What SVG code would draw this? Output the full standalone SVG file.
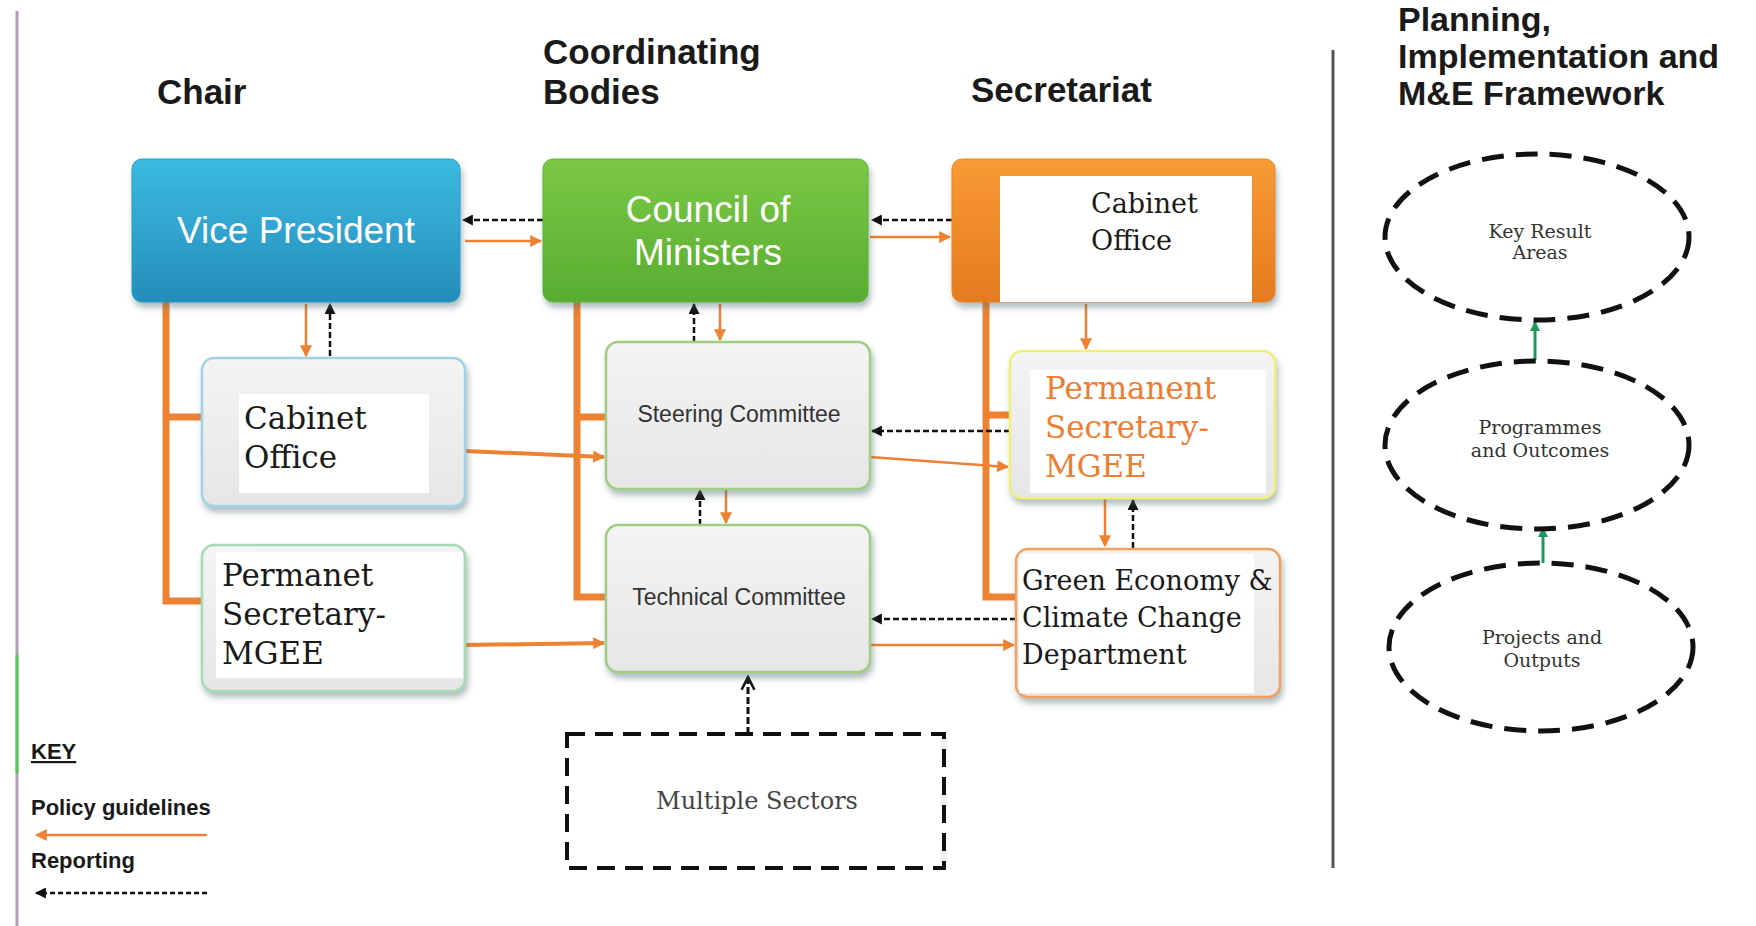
<svg xmlns="http://www.w3.org/2000/svg" width="1756" height="926" viewBox="0 0 1756 926">
<defs>
<linearGradient id="gBlue" x1="0" y1="0" x2="0" y2="1"><stop offset="0" stop-color="#3bbbe2"/><stop offset="1" stop-color="#258cbb"/></linearGradient>
<linearGradient id="gGreen" x1="0" y1="0" x2="0" y2="1"><stop offset="0" stop-color="#7cc845"/><stop offset="1" stop-color="#58ad31"/></linearGradient>
<linearGradient id="gOrange" x1="0" y1="0" x2="0" y2="1"><stop offset="0" stop-color="#f89a35"/><stop offset="1" stop-color="#e57b1f"/></linearGradient>
<linearGradient id="gGray" x1="0" y1="0" x2="0" y2="1"><stop offset="0" stop-color="#f4f4f4"/><stop offset="1" stop-color="#e6e6e6"/></linearGradient>
<filter id="sh" x="-10%" y="-10%" width="125%" height="130%"><feDropShadow dx="2" dy="5" stdDeviation="3" flood-color="#4a6a70" flood-opacity="0.45"/></filter>
<marker id="aO" viewBox="0 0 10 10" refX="9" refY="5" markerWidth="12" markerHeight="12" markerUnits="userSpaceOnUse" orient="auto"><path d="M0,0 L10,5 L0,10 Z" fill="#ee8232"/></marker>
<marker id="aK" viewBox="0 0 10 10" refX="9" refY="5" markerWidth="11" markerHeight="11" markerUnits="userSpaceOnUse" orient="auto"><path d="M0,0 L10,5 L0,10 Z" fill="#111"/></marker>
<marker id="aV" viewBox="0 0 10 10" refX="9" refY="5" markerWidth="16" markerHeight="16" markerUnits="userSpaceOnUse" orient="auto"><path d="M1,1 L9,5 L1,9" fill="none" stroke="#111" stroke-width="1.6"/></marker>
<marker id="aG" viewBox="0 0 10 10" refX="9" refY="5" markerWidth="10" markerHeight="10" markerUnits="userSpaceOnUse" orient="auto"><path d="M0,0 L10,5 L0,10 Z" fill="#1a9a5a"/></marker>
<style>
.hdr{font-family:"Liberation Sans",Arial,sans-serif;font-weight:bold;font-size:35px;fill:#1a1a1a}
.hdr2{font-family:"Liberation Sans",Arial,sans-serif;font-weight:bold;font-size:34px;fill:#1a1a1a}
.big{font-family:"Liberation Sans",Arial,sans-serif;font-size:37px;fill:#fff;text-anchor:middle}
.ser{font-family:"DejaVu Serif","Liberation Serif",serif;fill:#1a1a1a}
.cmt{font-family:"Liberation Sans",Arial,sans-serif;font-size:23px;fill:#333;text-anchor:middle}
.ell{font-family:"DejaVu Serif","Liberation Serif",serif;font-size:19px;fill:#333;text-anchor:middle}
.key{font-family:"Liberation Sans",Arial,sans-serif;font-weight:bold;font-size:22px;fill:#1a1a1a}
.pol{stroke:#ee8232;stroke-width:2.5;fill:none;marker-end:url(#aO)}
.polT{stroke:#ee8232;stroke-width:4;fill:none;marker-end:url(#aO)}
.rep{stroke:#111;stroke-width:2.5;stroke-dasharray:6,3;fill:none;marker-end:url(#aK)}
.bus{stroke:#ee8232;stroke-width:7;fill:none}
.box{fill:url(#gGray);stroke-width:2.5;filter:url(#sh)}
</style>
</defs>
<rect width="1756" height="926" fill="#fff"/>

<!-- edge and divider -->
<line x1="17" y1="11" x2="17" y2="926" stroke="#b49cb4" stroke-width="3"/>
<line x1="17" y1="655" x2="17" y2="773" stroke="#5cc85c" stroke-width="3"/>
<line x1="1333" y1="50" x2="1333" y2="868" stroke="#555" stroke-width="3"/>

<!-- headers -->
<text class="hdr" x="157" y="104">Chair</text>
<text class="hdr" x="543" y="64">Coordinating</text>
<text class="hdr" x="543" y="104">Bodies</text>
<text class="hdr" x="971" y="102">Secretariat</text>
<text class="hdr2" x="1398" y="31">Planning,</text>
<text class="hdr2" x="1398" y="68">Implementation and</text>
<text class="hdr2" x="1398" y="105">M&amp;E Framework</text>

<!-- connectors -->
<g id="connectors">
<path class="bus" d="M166,302 V601 H204 M166,417 H204"/>
<path class="bus" d="M577,302 V597 H608 M577,417 H608"/>
<path class="bus" d="M986,302 V597 H1018 M986,415 H1012"/>
<line class="pol" x1="465" y1="241" x2="541" y2="241"/>
<line class="pol" x1="870" y1="237" x2="950" y2="237"/>
<line class="pol" x1="306" y1="304" x2="306" y2="356"/>
<line class="pol" x1="720" y1="304" x2="720" y2="340"/>
<line class="pol" x1="726" y1="490" x2="726" y2="523"/>
<line class="polT" x1="465" y1="451" x2="604" y2="457"/>
<line class="polT" x1="465" y1="645" x2="604" y2="643"/>
<line class="pol" x1="870" y1="457" x2="1008" y2="467"/>
<line class="pol" x1="870" y1="645" x2="1014" y2="645"/>
<line class="pol" x1="1086" y1="304" x2="1086" y2="349"/>
<line class="pol" x1="1105" y1="498" x2="1105" y2="546"/>
<line class="rep" x1="543" y1="220" x2="463" y2="220"/>
<line class="rep" x1="952" y1="220" x2="872" y2="220"/>
<line class="rep" x1="330" y1="356" x2="330" y2="304"/>
<line class="rep" x1="694" y1="342" x2="694" y2="304" stroke-width="4"/>
<line class="rep" x1="700" y1="525" x2="700" y2="490"/>
<line class="rep" x1="1010" y1="431" x2="872" y2="431"/>
<line class="rep" x1="1016" y1="619" x2="872" y2="619"/>
<line class="rep" x1="1133" y1="548" x2="1133" y2="500"/>
<line x1="748" y1="734" x2="748" y2="677" stroke="#111" stroke-width="3" stroke-dasharray="7,3" marker-end="url(#aV)"/>
<line x1="1535" y1="360" x2="1535" y2="322" stroke="#1a9a5a" stroke-width="3" marker-end="url(#aG)"/>
<line x1="1543" y1="563" x2="1543" y2="528" stroke="#1a9a5a" stroke-width="3" marker-end="url(#aG)"/>
</g>

<!-- nodes -->
<g id="vice-president">
<rect x="132" y="159" width="328" height="143" rx="10" fill="url(#gBlue)" stroke="#2a9ac6" filter="url(#sh)"/>
<text class="big" x="296" y="243">Vice President</text>
</g>
<g id="council-of-ministers">
<rect x="543" y="159" width="325" height="143" rx="10" fill="url(#gGreen)" stroke="#5fb236" filter="url(#sh)"/>
<text class="big" x="708" y="222">Council of</text>
<text class="big" x="708" y="265">Ministers</text>
</g>
<g id="secretariat-cabinet-office">
<rect x="952" y="159" width="323" height="143" rx="10" fill="url(#gOrange)" stroke="#e88426" filter="url(#sh)"/>
<rect x="1000" y="176" width="252" height="126" fill="#fff"/>
<text class="ser" font-size="27" x="1091" y="213">Cabinet</text>
<text class="ser" font-size="27" x="1091" y="250">Office</text>
</g>
<g id="cabinet-office">
<rect class="box" x="202" y="358" width="263" height="148" rx="12" stroke="#a2d2e2"/>
<rect x="239" y="394" width="190" height="99" fill="#fff"/>
<text class="ser" font-size="31" x="244" y="429">Cabinet</text>
<text class="ser" font-size="31" x="244" y="468">Office</text>
</g>
<g id="permanet-secretary">
<rect class="box" x="202" y="545" width="263" height="146" rx="12" stroke="#a9dab6"/>
<rect x="216" y="552" width="247" height="126" fill="#fff"/>
<text class="ser" font-size="31" x="222" y="586">Permanet</text>
<text class="ser" font-size="31" x="222" y="625">Secretary-</text>
<text class="ser" font-size="31" x="222" y="664">MGEE</text>
</g>
<g id="steering-committee">
<rect class="box" x="606" y="342" width="264" height="147" rx="12" stroke="#9fce80"/>
<text class="cmt" x="739" y="422">Steering Committee</text>
</g>
<g id="technical-committee">
<rect class="box" x="606" y="525" width="264" height="147" rx="12" stroke="#9fce80"/>
<text class="cmt" x="739" y="605">Technical Committee</text>
</g>
<g id="permanent-secretary-mgee">
<rect class="box" x="1010" y="351" width="265" height="147" rx="12" stroke="#eef07a"/>
<rect x="1030" y="370" width="236" height="123" fill="#fff"/>
<text class="ser" font-size="31" style="fill:#ed7d31" x="1045" y="399">Permanent</text>
<text class="ser" font-size="31" style="fill:#ed7d31" x="1045" y="438">Secretary-</text>
<text class="ser" font-size="31" style="fill:#ed7d31" x="1045" y="477">MGEE</text>
</g>
<g id="green-economy">
<rect class="box" x="1016" y="549" width="264" height="148" rx="12" stroke="#f2a060"/>
<rect x="1019" y="554" width="235" height="139" fill="#fff"/>
<text class="ser" font-size="27" x="1022" y="590">Green Economy &amp;</text>
<text class="ser" font-size="27" x="1022" y="627">Climate Change</text>
<text class="ser" font-size="27" x="1022" y="664">Department</text>
</g>
<g id="multiple-sectors">
<rect x="567" y="734" width="377" height="134" fill="#fff" stroke="#111" stroke-width="4" stroke-dasharray="18,10"/>
<text class="ser" font-size="24" style="fill:#444" text-anchor="middle" x="757" y="809">Multiple Sectors</text>
</g>
<g id="key-result-areas">
<ellipse cx="1537" cy="237" rx="152" ry="83" fill="#fff" stroke="#111" stroke-width="5" stroke-dasharray="22,12"/>
<text class="ell" x="1540" y="238">Key Result</text>
<text class="ell" x="1540" y="259">Areas</text>
</g>
<g id="programmes-and-outcomes">
<ellipse cx="1537" cy="445" rx="152" ry="84" fill="#fff" stroke="#111" stroke-width="5" stroke-dasharray="22,12"/>
<text class="ell" x="1540" y="434">Programmes</text>
<text class="ell" x="1540" y="457">and Outcomes</text>
</g>
<g id="projects-and-outputs">
<ellipse cx="1541" cy="647" rx="152" ry="84" fill="#fff" stroke="#111" stroke-width="5" stroke-dasharray="22,12"/>
<text class="ell" x="1542" y="644">Projects and</text>
<text class="ell" x="1542" y="667">Outputs</text>
</g>

<!-- key -->
<g id="key">
<text class="key" x="31" y="759" text-decoration="underline">KEY</text>
<text class="key" x="31" y="815">Policy guidelines</text>
<line x1="207" y1="835" x2="36" y2="835" stroke="#ee8232" stroke-width="2.5" marker-end="url(#aO)"/>
<text class="key" x="31" y="868">Reporting</text>
<line x1="207" y1="893" x2="36" y2="893" stroke="#111" stroke-width="2.5" stroke-dasharray="5,3" marker-end="url(#aK)"/>
</g>
</svg>
